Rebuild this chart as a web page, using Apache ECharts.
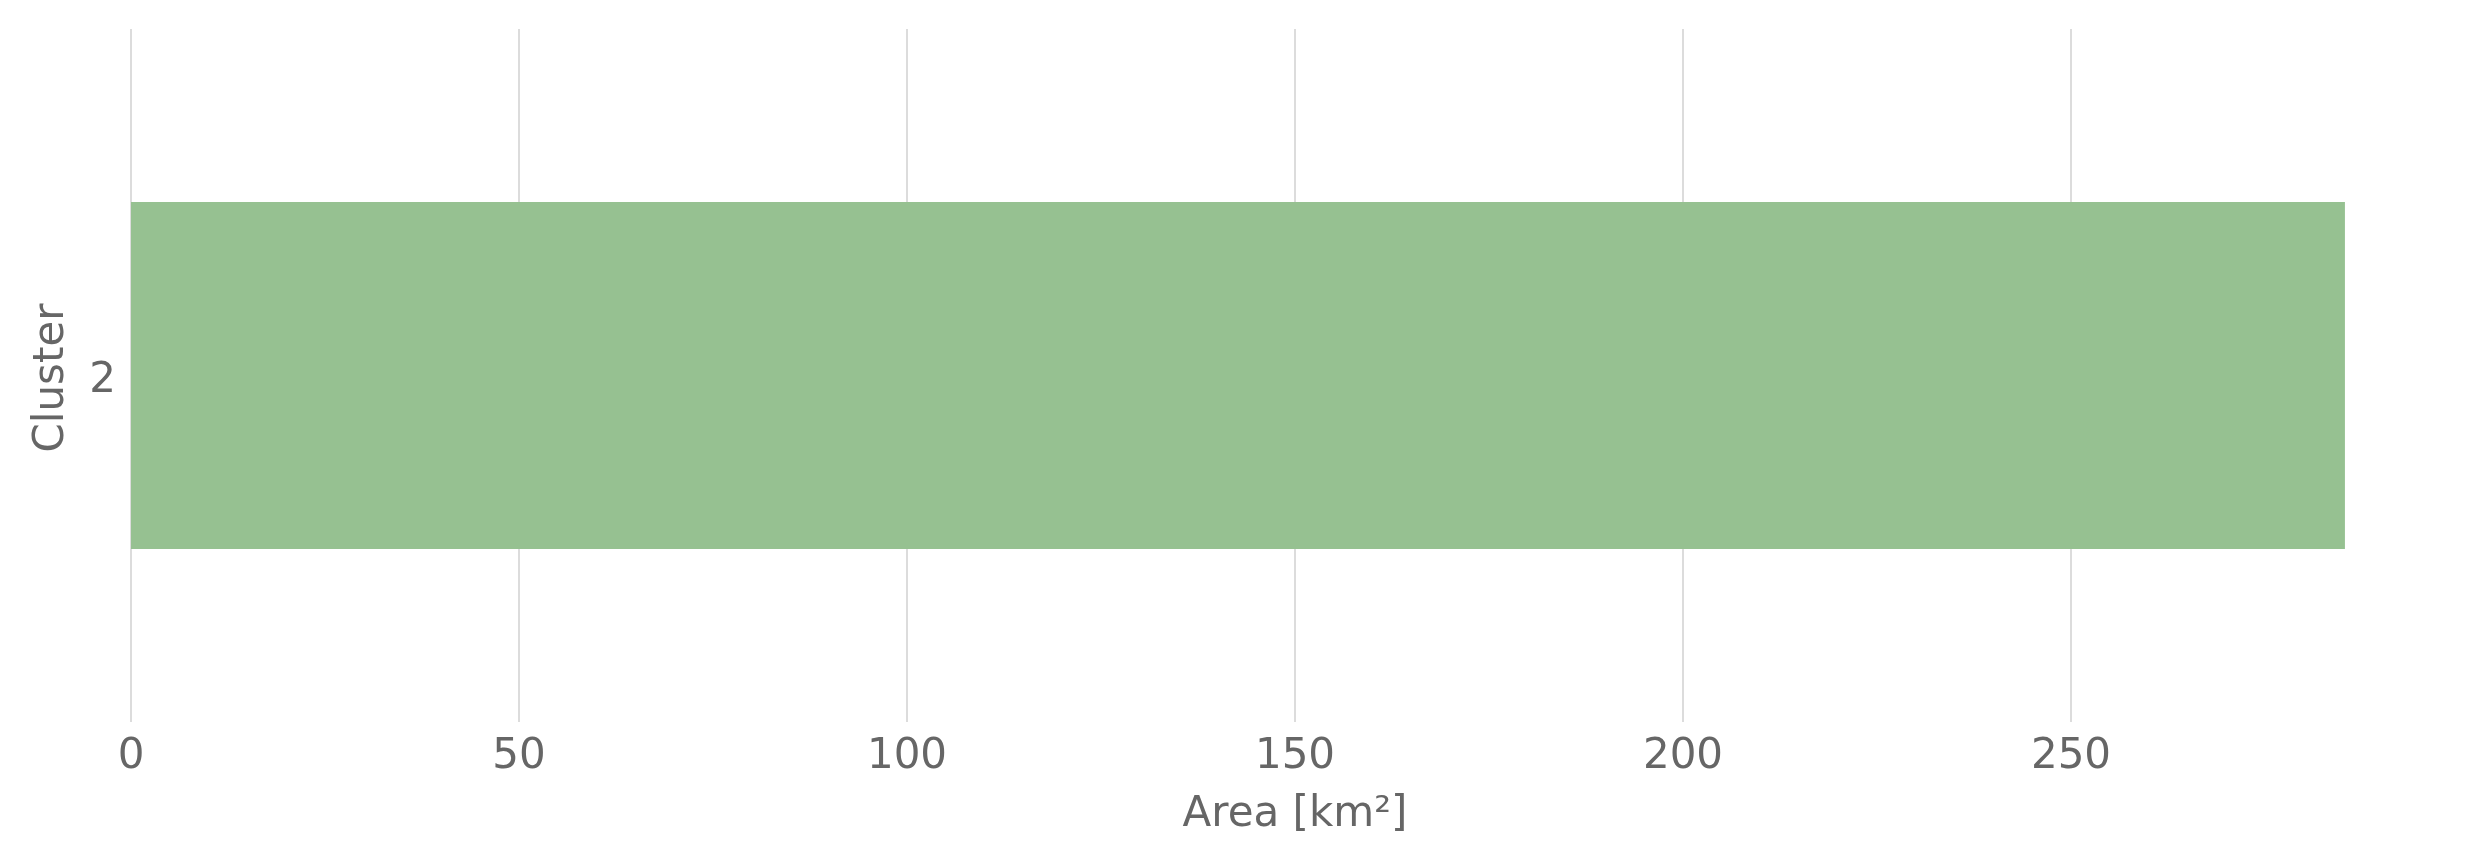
<!DOCTYPE html>
<html>
<head>
<meta charset="utf-8">
<script src="https://cdn.jsdelivr.net/npm/echarts@6/dist/echarts.min.js"></script>
<style>
html,body{margin:0;padding:0;background:#fff;}
#chart{width:2484px;height:866px;}
</style>
</head>
<body>
<div id="chart"></div>
<script>
const categories = ["2"];
const areaValues = [285.3];
const xTickStep = 50;
const xMax = 300;

const chart = echarts.init(document.getElementById('chart'), null, {renderer: 'canvas'});
const font = 'DejaVu Sans';
chart.setOption({
  animation: false,
  backgroundColor: '#ffffff',
  grid: {left: 131, right: 25, top: 29, bottom: 144, containLabel: false},
  xAxis: {
    type: 'value',
    min: 0,
    max: xMax,
    interval: xTickStep,
    name: 'Area [km²]',
    nameLocation: 'middle',
    nameGap: 72,
    nameTextStyle: {fontFamily: font, fontSize: 42, color: '#666666'},
    axisLine: {show: false},
    axisTick: {show: false},
    axisLabel: {fontFamily: font, fontSize: 42, color: '#666666', margin: 14, showMaxLabel: false},
    splitLine: {show: true, showMaxLine: false, lineStyle: {color: '#dcdcdc', width: 2}}
  },
  yAxis: {
    type: 'category',
    data: categories,
    name: 'Cluster',
    nameLocation: 'middle',
    nameGap: 58,
    nameRotate: 90,
    nameTextStyle: {fontFamily: font, fontSize: 42, color: '#666666', padding: [0, 5, 0, 0]},
    axisLine: {show: false},
    axisTick: {show: false},
    axisLabel: {fontFamily: font, fontSize: 42, color: '#666666', margin: 15, verticalAlign: 'top', lineHeight: 12},
    splitLine: {show: false}
  },
  series: [{
    type: 'bar',
    data: areaValues,
    barWidth: 347,
    itemStyle: {color: '#96c191'}
  }]
});
</script>
</body>
</html>
